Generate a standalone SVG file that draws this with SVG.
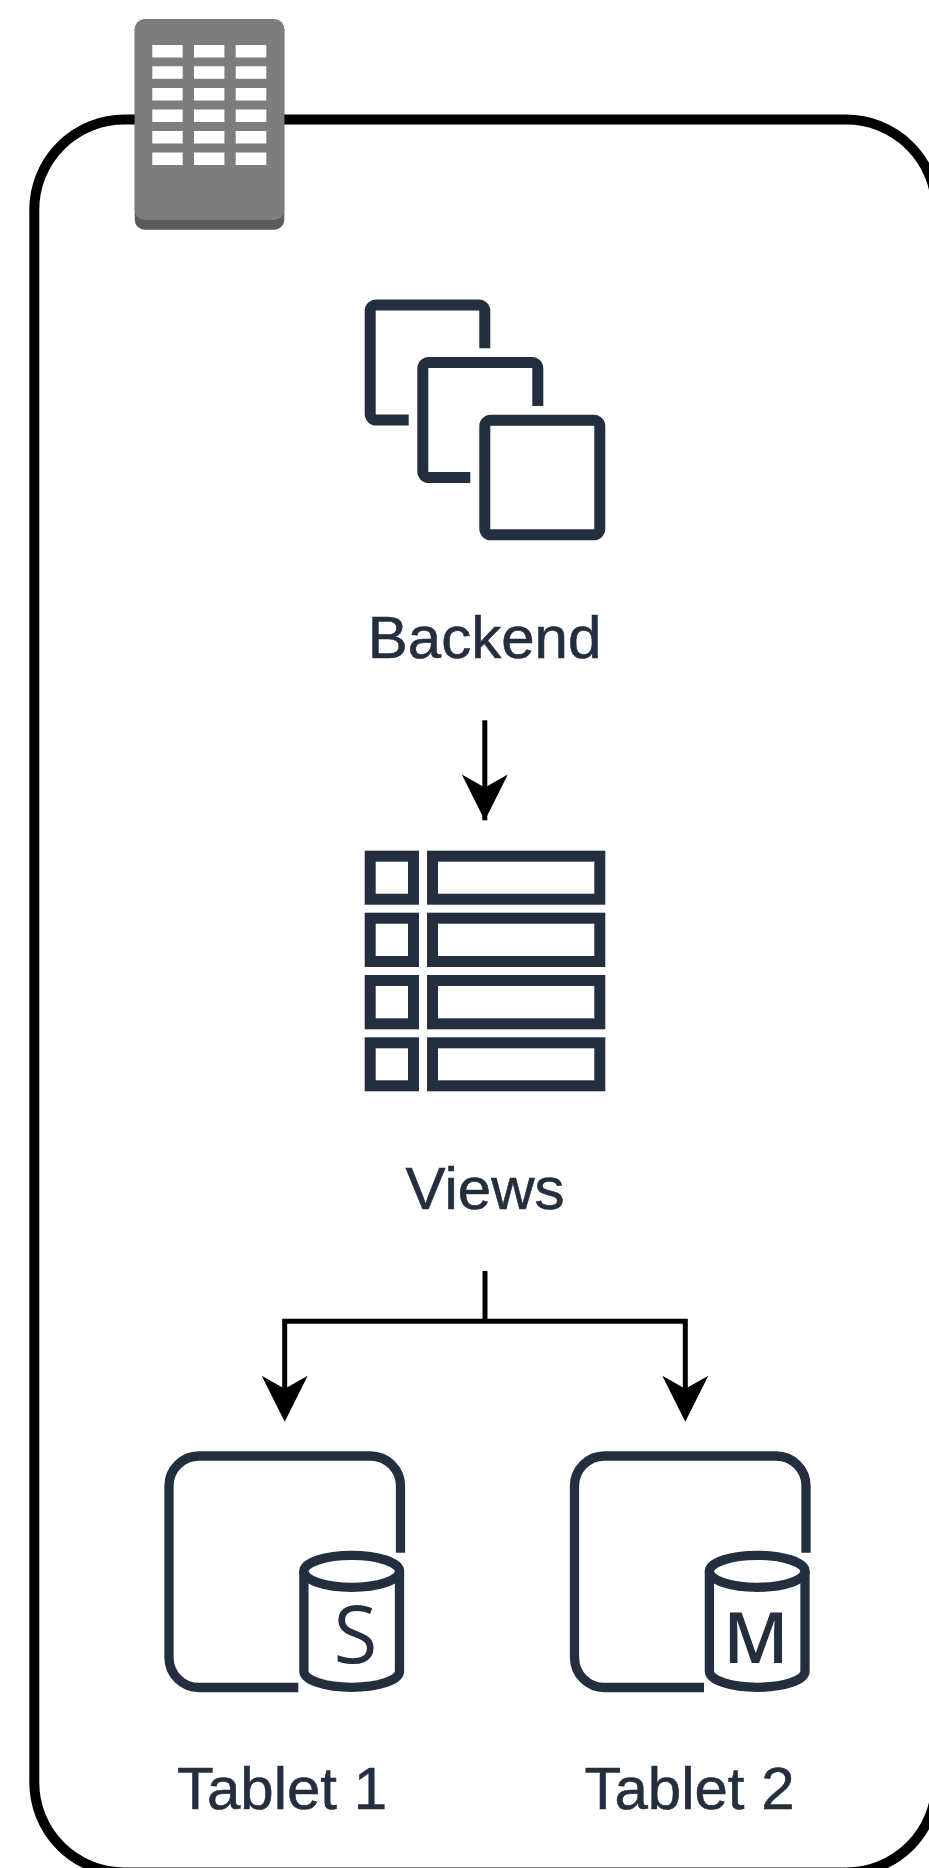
<svg xmlns="http://www.w3.org/2000/svg" width="929" height="1868" viewBox="0 0 929 1868">
<style>
.ic{fill:none;stroke:#232f3e;stroke-width:11}
.tb{fill:none;stroke:#232f3e;stroke-width:9.3}
.lb{font-family:"Liberation Sans",Arial,sans-serif;font-size:60px;fill:#232f3e;stroke:#232f3e;stroke-width:.6;text-anchor:middle}
.cn{fill:none;stroke:#000;stroke-width:5}
.win{fill:#fff}
</style>
<defs>
<path id="head" d="M-23 -46L0 -33L23 -46L0 0Z" fill="#000"/>
<g id="cyl">
<ellipse cx="0" cy="0" rx="47.8" ry="16" class="tb"/>
<path class="tb" d="M-47.8 0V100C-47.8 109 -26 116 0 116C26 116 47.8 109 47.8 100V0"/>
</g>
</defs>
<rect width="929" height="1868" fill="#fff"/>
<rect id="container" x="34.3" y="119.6" width="902" height="1752.9" rx="90" ry="90" fill="none" stroke="#000" stroke-width="10"/>
<g id="building">
<rect x="134.7" y="19.3" width="149.6" height="210.4" rx="10" fill="#5b5b5b"/>
<rect x="134.7" y="19.3" width="149.6" height="200.7" rx="10" fill="#7d7d7d"/>
<path class="win" d="M152.3 45h30.4v12.5h-30.4zM194 45h30.4v12.5h-30.4zM235.7 45h30.6v12.5h-30.6zM152.3 66.3h30.4v12.5h-30.4zM194 66.3h30.4v12.5h-30.4zM235.7 66.3h30.6v12.5h-30.6zM152.3 88h30.4v12.5h-30.4zM194 88h30.4v12.5h-30.4zM235.7 88h30.6v12.5h-30.6zM152.3 109.5h30.4v12.5h-30.4zM194 109.5h30.4v12.5h-30.4zM235.7 109.5h30.6v12.5h-30.6zM152.3 131h30.4v12.5h-30.4zM194 131h30.4v12.5h-30.4zM235.7 131h30.6v12.5h-30.6zM152.3 152.5h30.4v12.5h-30.4zM194 152.5h30.4v12.5h-30.4zM235.7 152.5h30.6v12.5h-30.6z"/>
</g>
<g id="backend">
<path class="ic" d="M484.8 348.3V311a6 6 0 0 0 -6 -6H376.2a6 6 0 0 0 -6 6V414a6 6 0 0 0 6 6H408.7"/>
<path class="ic" d="M537.8 406V368.5a6 6 0 0 0 -6 -6H428.8a6 6 0 0 0 -6 6V471.5a6 6 0 0 0 6 6H470.3"/>
<rect class="ic" x="484.8" y="420.2" width="115" height="114.6" rx="6"/>
<text class="lb" x="484.5" y="658">Backend</text>
</g>
<g id="views">
<g class="ic">
<rect x="370.2" y="856.2" width="43.3" height="43"/><rect x="432.5" y="856.2" width="167.3" height="43"/>
<rect x="370.2" y="918.2" width="43.3" height="43.3"/><rect x="432.5" y="918.2" width="167.3" height="43.3"/>
<rect x="370.2" y="980.5" width="43.3" height="43.3"/><rect x="432.5" y="980.5" width="167.3" height="43.3"/>
<rect x="370.2" y="1042.8" width="43.3" height="43"/><rect x="432.5" y="1042.8" width="167.3" height="43"/>
</g>
<text class="lb" x="485" y="1209">Views</text>
</g>
<g id="tablet1">
<path class="tb" d="M400.5 1552.7V1486a30 30 0 0 0 -30 -30H199a30 30 0 0 0 -30 30V1657.5a30 30 0 0 0 30 30H298.3"/>
<use href="#cyl" x="351.7" y="1571.3"/>
<text x="355.5" y="1662.5" font-family="'Open Sans',sans-serif" font-weight="400" font-size="80" fill="#232f3e" text-anchor="middle">S</text>
<text class="lb" x="282" y="1809">Tablet 1</text>
</g>
<g id="tablet2">
<path class="tb" d="M806 1552.7V1486a30 30 0 0 0 -30 -30H604.5a30 30 0 0 0 -30 30V1657.5a30 30 0 0 0 30 30H704"/>
<use href="#cyl" x="757.2" y="1571.3"/>
<text x="756" y="1663" font-family="'Open Sans',sans-serif" font-weight="600" font-size="71" fill="#232f3e" text-anchor="middle">M</text>
<text class="lb" x="689.5" y="1809">Tablet 2</text>
</g>
<g id="connectors">
<path class="cn" d="M484.8 720.3V820.3"/>
<use href="#head" x="484.8" y="820.5"/>
<path class="cn" d="M485 1271V1321.3"/>
<path class="cn" d="M284.7 1390V1321.3H685.3V1390"/>
<use href="#head" x="284.7" y="1421.7"/>
<use href="#head" x="685.3" y="1421.7"/>
</g>
</svg>
